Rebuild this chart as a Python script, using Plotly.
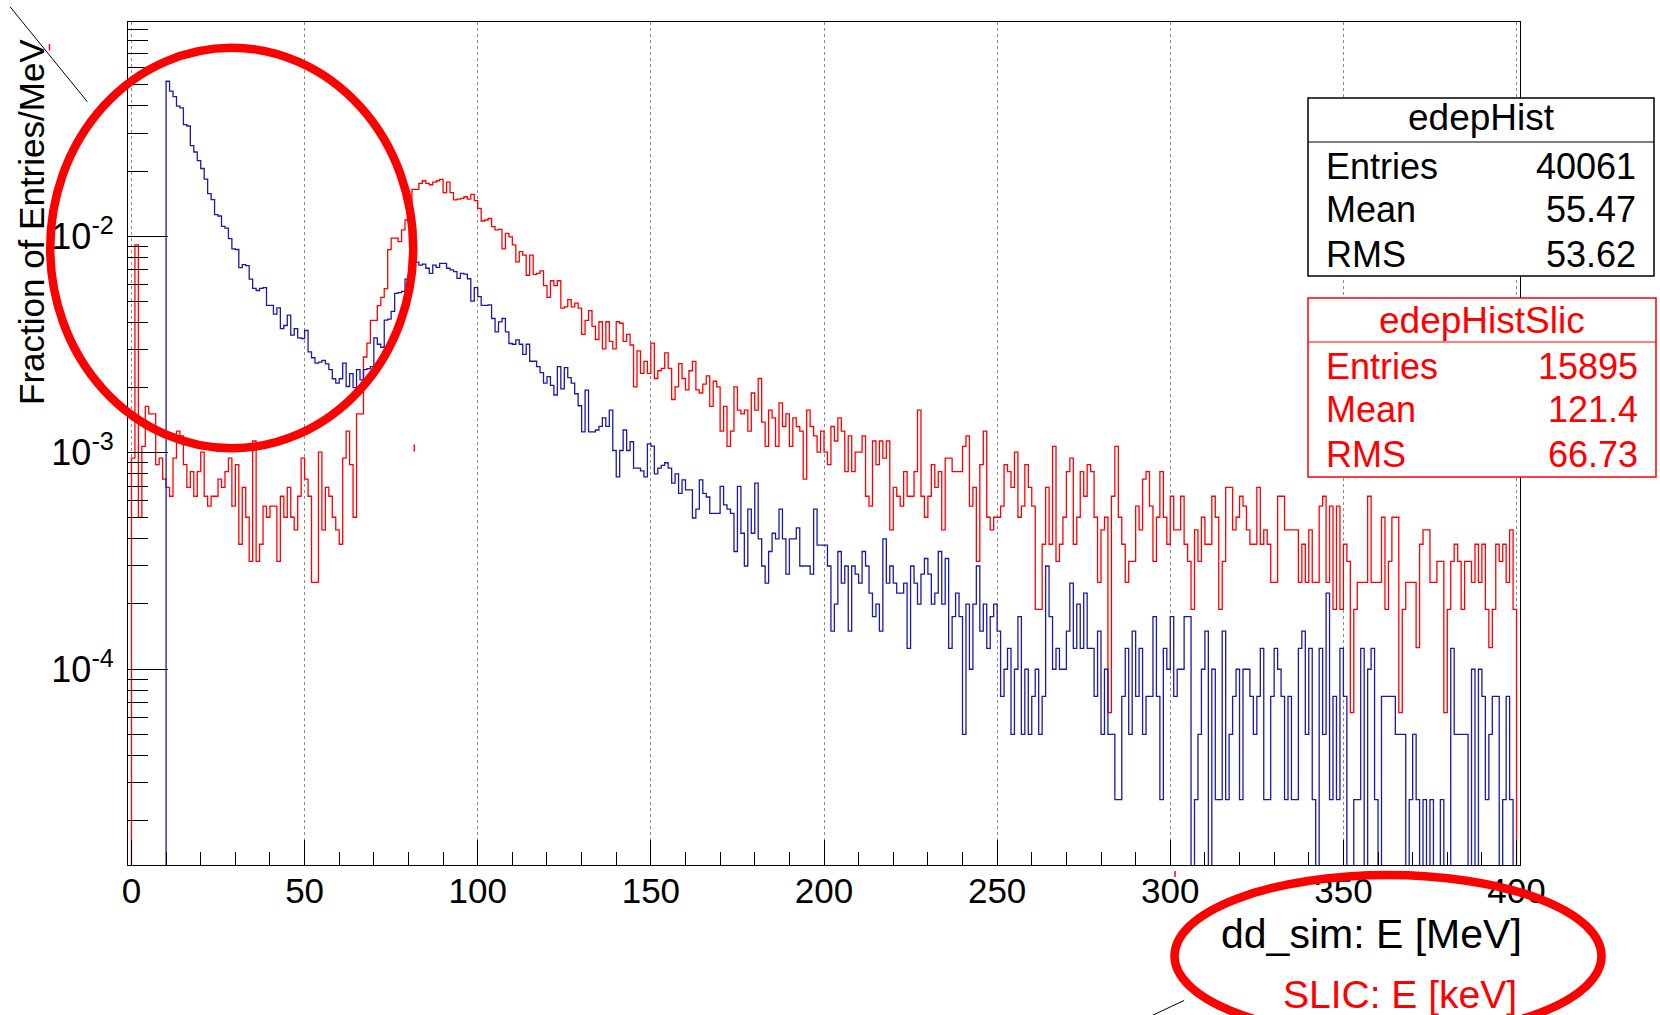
import plotly.graph_objects as go

# ---------------- data (counts per 1 MeV bin) ----------------
n_bins = 400
bin_low = 0.0
bin_width = 1.0

entries_dd = 40061      # edepHist
entries_slic = 15895    # edepHistSlic

blue_counts = [
    0, 0, 0, 0, 0, 0, 0, 0, 0, 0,
    2084, 1875, 1770, 1600, 1570, 1315, 1295, 1050, 982, 896,
    824, 735, 631, 591, 504, 497, 445, 437, 391, 350,
    348, 287, 296, 293, 254, 230, 225, 230, 232, 192,
    192, 175, 187, 150, 155, 173, 140, 150, 136, 135,
    147, 117, 110, 104, 105, 107, 103, 97, 88, 84,
    88, 104, 81, 93, 80, 97, 87, 97, 98, 100,
    136, 127, 123, 164, 166, 180, 218, 220, 223, 254,
    256, 295, 304, 295, 298, 285, 270, 295, 288, 300,
    300, 285, 280, 275, 256, 270, 268, 255, 201, 232,
    211, 192, 192, 193, 167, 145, 161, 167, 145, 128,
    127, 133, 127, 114, 127, 106, 106, 100, 94, 84,
    90, 82, 74, 100, 79, 99, 89, 84, 75, 66,
    50, 78, 50, 50, 51, 53, 58, 53, 63, 41,
    31, 41, 51, 41, 45, 34, 34, 33, 31, 44,
    43, 32, 34, 35, 36, 34, 29, 32, 26, 30,
    27, 27, 20, 22, 30, 26, 25, 21, 21, 21,
    28, 23, 22, 21, 14, 28, 17, 12, 22, 17,
    29, 16, 12, 10, 14, 17, 16, 22, 16, 11,
    16, 16, 18, 12, 12, 12, 11, 22, 15, 15,
    15, 12, 6, 8, 14, 10, 12, 6, 12, 11,
    10, 14, 12, 9, 7, 8, 6, 16, 10, 12,
    10, 9, 9, 10, 5, 12, 10, 8, 11, 13,
    11, 8, 9, 14, 8, 13, 5, 7, 9, 7,
    2, 8, 4, 8, 12, 6, 8, 5, 7, 8,
    6, 3, 4, 5, 2, 4, 7, 2, 4, 2,
    3, 4, 2, 3, 12, 7, 4, 5, 4, 4,
    6, 10, 5, 8, 5, 9, 5, 5, 3, 6,
    2, 4, 2, 2, 1, 1, 3, 5, 2, 6,
    3, 5, 2, 3, 3, 7, 3, 1, 5, 4,
    7, 3, 4, 4, 7, 7, 0, 1, 2, 4,
    6, 0, 4, 1, 1, 6, 1, 2, 3, 4,
    1, 4, 4, 3, 2, 3, 5, 1, 1, 3,
    5, 4, 3, 1, 3, 1, 1, 5, 6, 2,
    5, 1, 0, 5, 2, 9, 1, 3, 1, 5,
    3, 0, 0, 1, 1, 5, 0, 4, 5, 1,
    0, 3, 3, 3, 3, 2, 2, 2, 0, 1,
    2, 1, 0, 1, 0, 1, 0, 0, 1, 0,
    0, 5, 2, 2, 2, 2, 0, 4, 0, 4,
    3, 1, 2, 3, 3, 0, 1, 3, 1, 0,
]

red_counts = [
    15, 145, 8, 17, 26, 24, 24, 14, 15, 12,
    11, 10, 15, 20, 19, 14, 11, 13, 10, 13,
    16, 10, 9, 10, 10, 12, 11, 13, 15, 9,
    14, 6, 11, 8, 5, 18, 5, 6, 9, 8,
    9, 9, 5, 10, 8, 11, 8, 7, 10, 15,
    12, 10, 4, 4, 16, 7, 11, 10, 8, 7,
    6, 15, 20, 14, 8, 24, 24, 44, 51, 65,
    65, 76, 83, 91, 138, 156, 156, 150, 170, 189,
    203, 262, 262, 279, 287, 279, 275, 283, 287, 291,
    253, 283, 253, 234, 236, 238, 242, 236, 248, 232,
    214, 187, 189, 192, 176, 170, 171, 139, 164, 158,
    145, 121, 135, 130, 105, 130, 106, 107, 110, 94,
    83, 99, 94, 99, 74, 75, 81, 75, 78, 74,
    56, 65, 72, 61, 53, 64, 48, 64, 52, 48,
    64, 63, 52, 56, 50, 32, 47, 37, 42, 37,
    51, 35, 38, 39, 46, 39, 28, 32, 41, 35,
    31, 38, 42, 31, 30, 33, 36, 26, 34, 32,
    20, 26, 17, 20, 32, 25, 24, 25, 20, 30,
    25, 35, 22, 17, 25, 23, 17, 27, 21, 24,
    17, 23, 21, 20, 12, 25, 21, 19, 16, 20,
    16, 14, 21, 18, 23, 20, 13, 19, 13, 16,
    16, 19, 10, 9, 18, 14, 18, 15, 18, 7,
    11, 10, 9, 13, 10, 10, 13, 25, 10, 8,
    10, 14, 11, 13, 7, 15, 15, 13, 13, 13,
    17, 19, 9, 11, 5, 14, 20, 8, 7, 8,
    8, 9, 14, 13, 11, 16, 8, 9, 14, 11,
    9, 3, 3, 6, 11, 6, 17, 5, 6, 8,
    13, 15, 6, 8, 13, 10, 14, 13, 8, 4,
    7, 8, 1, 10, 17, 8, 6, 4, 5, 5,
    9, 7, 12, 13, 9, 5, 8, 13, 8, 6,
    10, 7, 7, 10, 6, 5, 3, 7, 5, 8,
    6, 6, 10, 8, 3, 5, 11, 11, 7, 8,
    10, 9, 7, 6, 6, 11, 6, 7, 6, 4,
    4, 10, 10, 7, 7, 7, 7, 4, 6, 4,
    7, 4, 4, 9, 10, 4, 9, 3, 9, 3,
    6, 5, 1, 3, 4, 4, 4, 10, 4, 4,
    4, 8, 3, 5, 8, 8, 1, 3, 4, 4,
    4, 2, 6, 7, 7, 4, 4, 5, 5, 1,
    3, 5, 6, 5, 3, 5, 5, 4, 6, 4,
    6, 3, 2, 3, 6, 5, 6, 4, 7, 3,
]

x_tick_vals = [0, 50, 100, 150, 200, 250, 300, 350, 400]
x_tick_text = ["0", "50", "100", "150", "200", "250", "300", "350", "400"]
y_tick_vals = [1e-4, 1e-3, 1e-2]
y_tick_text = ["10<sup>-4</sup>", "10<sup>-3</sup>", "10<sup>-2</sup>"]

stats_dd = [("Entries", "40061"), ("Mean", "55.47"), ("RMS", "53.62")]
stats_slic = [("Entries", "15895"), ("Mean", "121.4"), ("RMS", "66.73")]

# ---------------- layout geometry ----------------
W, H = 1660, 1015
PL, PR, PT, PB = 128, 1520, 22, 865   # plot-area pixel edges
x_range = [-1, 401]
y_range = [-4.905, -1.010]
FLOOR = 1e-8
FONT = "Liberation Sans, Arial, Helvetica, sans-serif"
BLUE = "#1a1aa6"
RED = "#ff0000"


def px(x):
    return (x - PL) / (PR - PL)


def py(y):
    return (PB - y) / (PB - PT)


def step_xy(counts, entries):
    edges = [bin_low + i * bin_width for i in range(len(counts) + 1)]
    vals = [c / entries if c > 0 else FLOOR for c in counts]
    xs = [edges[0]] + edges[:-1] + [edges[-1], edges[-1]]
    ys = [FLOOR] + vals + [vals[-1], FLOOR]
    return xs, ys


fig = go.Figure()
bx, by = step_xy(blue_counts, entries_dd)
rx, ry = step_xy(red_counts, entries_slic)
fig.add_trace(go.Scatter(x=rx, y=ry, mode="lines", line=dict(color=RED, width=1.3, shape="hv"),
                         name="edepHistSlic", showlegend=False, hoverinfo="skip"))
fig.add_trace(go.Scatter(x=bx, y=by, mode="lines", line=dict(color=BLUE, width=1.3, shape="hv"),
                         name="edepHist", showlegend=False, hoverinfo="skip"))

minor_y = []
for dec in [1e-5, 1e-4, 1e-3, 1e-2]:
    for m in range(2, 10):
        minor_y.append(m * dec)

fig.update_layout(
    width=W, height=H,
    margin=dict(l=PL, r=W - PR, t=PT, b=H - PB, pad=0),
    paper_bgcolor="white", plot_bgcolor="white",
    font=dict(family=FONT, color="black"),
    xaxis=dict(
        range=x_range, tickvals=x_tick_vals, ticktext=x_tick_text,
        ticks="inside", ticklen=25, tickwidth=1, tickcolor="black",
        showgrid=True, gridcolor="#8a8a8a", griddash="dot", gridwidth=1,
        zeroline=False, showline=True, mirror=True, linecolor="black", linewidth=1,
        tickfont=dict(size=35, family=FONT, color="black"), ticklabelstandoff=-5,
        minor=dict(dtick=10, tick0=0, ticks="inside", ticklen=13, tickwidth=1,
                   tickcolor="black", showgrid=False),
    ),
    yaxis=dict(
        type="log", range=y_range, tickvals=y_tick_vals, ticktext=y_tick_text,
        ticks="inside", ticklen=40, tickwidth=1, tickcolor="black",
        showgrid=False, zeroline=False, showline=True, mirror=True,
        linecolor="black", linewidth=1,
        tickfont=dict(size=36, family=FONT, color="black"), ticklabelstandoff=6,
        minor=dict(tickvals=minor_y, ticks="inside", ticklen=20, tickwidth=1,
                   tickcolor="black", showgrid=False),
    ),
)

shapes = []
annotations = []

# stats boxes
def stats_box(x0, x1, y0, y1, ydiv, color, title, rows, ytitle, yrows):
    shapes.append(dict(type="rect", xref="paper", yref="paper", x0=px(x0), x1=px(x1),
                       y0=py(y1), y1=py(y0), fillcolor="white",
                       line=dict(color=color, width=1.5), layer="above"))
    shapes.append(dict(type="line", xref="paper", yref="paper", x0=px(x0), x1=px(x1),
                       y0=py(ydiv), y1=py(ydiv), line=dict(color=color, width=1.2), layer="above"))
    annotations.append(dict(xref="paper", yref="paper", x=px((x0 + x1) / 2), y=py(ytitle),
                            text=title, showarrow=False, xanchor="center", yanchor="middle",
                            font=dict(size=37, color=color, family=FONT)))
    for (lab, val), yr in zip(rows, yrows):
        annotations.append(dict(xref="paper", yref="paper", x=px(x0 + 16), y=py(yr),
                                text=lab, showarrow=False, xanchor="left", yanchor="middle",
                                font=dict(size=36, color=color, family=FONT)))
        annotations.append(dict(xref="paper", yref="paper", x=px(x1 - 16), y=py(yr),
                                text=val, showarrow=False, xanchor="right", yanchor="middle",
                                font=dict(size=36, color=color, family=FONT)))

stats_box(1308, 1654, 98, 276, 142, "black", "edepHist", stats_dd, 118, [166, 210, 254])
stats_box(1308, 1656, 298, 477, 342, RED, "edepHistSlic", stats_slic, 320, [366, 410, 454])

# axis titles
annotations.append(dict(xref="paper", yref="paper", x=px(31), y=py(222), text="Fraction of Entries/MeV",
                        textangle=-90, showarrow=False, xanchor="center", yanchor="middle",
                        font=dict(size=35, color="black", family=FONT)))
annotations.append(dict(xref="paper", yref="paper", x=px(1524), y=py(934), text="dd_sim: E [MeV]",
                        showarrow=False, xanchor="right", yanchor="middle",
                        font=dict(size=41, color="black", family=FONT)))
annotations.append(dict(xref="paper", yref="paper", x=px(1519), y=py(994), text="SLIC: E [keV]",
                        showarrow=False, xanchor="right", yanchor="middle",
                        font=dict(size=39, color=RED, family=FONT)))

# stray axis fragments (black lines and red ticks)
for (x0, y0, x1, y1) in [(10, 6.7, 87.3, 101.7), (1151, 1016, 1184, 1000.5)]:
    shapes.append(dict(type="line", xref="paper", yref="paper", x0=px(x0), y0=py(y0),
                       x1=px(x1), y1=py(y1), line=dict(color="black", width=1), layer="above"))
for (x0, y0, y1) in [(49.5, 44, 50.5), (414.3, 444.5, 451.5), (1175, 871, 877)]:
    shapes.append(dict(type="line", xref="paper", yref="paper", x0=px(x0), y0=py(y0),
                       x1=px(x0), y1=py(y1), line=dict(color=RED, width=1.5), layer="above"))

# hand-drawn red ellipses
shapes.append(dict(type="circle", xref="paper", yref="paper", x0=px(50.2), x1=px(413.2),
                   y0=py(448.2), y1=py(47.8), line=dict(color=RED, width=8.5), layer="above"))
shapes.append(dict(type="circle", xref="paper", yref="paper", x0=px(1174.5), x1=px(1601.5),
                   y0=py(1037), y1=py(875), line=dict(color=RED, width=8.5), layer="above"))

fig.update_layout(shapes=shapes, annotations=annotations)
fig.write_html("out.html", config={"displayModeBar": False})
